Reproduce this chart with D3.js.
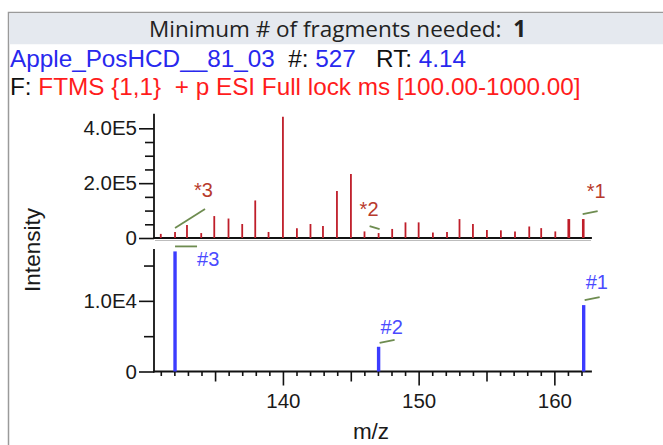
<!DOCTYPE html>
<html><head><meta charset="utf-8">
<script src="https://cdn.jsdelivr.net/npm/d3@7"></script>
<style>
html,body{margin:0;padding:0;background:#fff;}
svg{display:block;}
text{white-space:pre;}
</style></head>
<body>
<svg id="chart" width="663" height="445"></svg>
<script>
// ---------------- data ----------------
const headerLabel = "Minimum # of fragments needed:";
const headerValue = "1";
const fileName = "Apple_PosHCD__81_03";
const scanNumber = "527";
const retentionTime = "4.14";
const filterText = "FTMS {1,1}  + p ESI Full lock ms [100.00-1000.00]";

// measured spectrum (top panel)
const sampleMz = [131.0, 132.05, 132.93, 133.98, 134.94, 135.99, 137.0, 137.96, 138.94, 140.0,
  141.03, 142.03, 142.95, 143.98, 145.01, 146.01, 147.05, 148.05, 149.03, 150.0,
  151.05, 152.09, 153.01, 154.0, 155.03, 156.06, 157.1, 158.15, 159.03, 160.07,
  161.03, 161.1, 162.1, 162.16];
const sampleIntensity = [1.5e4, 2.2e4, 4.7e4, 1.8e4, 8.0e4, 7.1e4, 5.1e4, 1.37e5, 2.2e4, 4.42e5,
  3.6e4, 5.1e4, 4.4e4, 1.71e5, 2.33e5, 2.4e4, 1.8e4, 3.3e4, 5.7e4, 5.7e4,
  2.0e4, 2.2e4, 6.9e4, 5.1e4, 2.9e4, 2.8e4, 2.4e4, 4.2e4, 3.6e4, 2.4e4,
  6.9e4, 6.9e4, 6.9e4, 6.9e4];
const sampleMatchLabels = ["*3", "*2", "*1"];
const sampleMatchMz = [132.05, 147.05, 162.16];

// library fragments (bottom panel)
const fragmentLabels = ["#3", "#2", "#1"];
const fragmentMz = [132.05, 147.05, 162.16];
const fragmentIntensity = [1.7e4, 3.5e3, 9.4e3];

// axes
const mzDomain = [130.5, 162.7];
const mzMajorTicks = [140, 150, 160];
const mzTickLabels = ["140", "150", "160"];
const topMax = 4.5e5;
const topMajorTicks = [0, 2e5, 4e5];
const topTickLabels = ["0", "2.0E5", "4.0E5"];
const topMinorTicks = [5e4, 1e5, 1.5e5, 2.5e5, 3e5, 3.5e5];
const bottomMax = 1.72e4;
const bottomMajorTicks = [0, 1e4];
const bottomTickLabels = ["0", "1.0E4"];
const bottomMinorTicks = [5e3, 1.5e4];
const xTitle = "m/z";
const yTitle = "Intensity";

// ---------------- layout ----------------
const svg = d3.select("#chart");
const sans = "'Liberation Sans', Arial, sans-serif";
const C = {
  frame: "#9a9a9a", header: "#e5e9ef", axis: "#111",
  peak: "#bf1e2a", frag: "#3c3cff", leader: "#6e8c50",
  starLabel: "#b83a2c", hashLabel: "#4a4aff",
  infoBlue: "#2828ee", infoRed: "#ff1c1c"
};

// frame + header band
svg.append("rect").attr("x", 8.5).attr("y", 12.5).attr("width", 700).attr("height", 500)
  .attr("fill", "#fff").attr("stroke", C.frame).attr("stroke-width", 1.5);
svg.append("rect").attr("x", 9.25).attr("y", 13.25).attr("width", 700).attr("height", 31)
  .attr("fill", C.header);

const head = svg.append("text").attr("x", 149).attr("y", 37)
  .attr("font-family", "'Open Sans', 'Noto Sans', sans-serif").attr("font-size", 22.5).attr("fill", "#222");
head.append("tspan").text(headerLabel + "  ");
head.append("tspan").attr("font-weight", "bold").text(headerValue);

const l2 = svg.append("text").attr("x", 10).attr("y", 67)
  .attr("font-family", sans).attr("font-size", 24.3);
l2.append("tspan").attr("fill", C.infoBlue).text(fileName);
l2.append("tspan").attr("fill", "#111").text("  #: ");
l2.append("tspan").attr("fill", C.infoBlue).text(scanNumber);
l2.append("tspan").attr("fill", "#111").text("   RT: ");
l2.append("tspan").attr("fill", C.infoBlue).text(retentionTime);

const l3 = svg.append("text").attr("x", 10).attr("y", 95)
  .attr("font-family", sans).attr("font-size", 24.3);
l3.append("tspan").attr("fill", "#111").text("F: ");
l3.append("tspan").attr("fill", C.infoRed).text(filterText);

// scales
const x = d3.scaleLinear().domain(mzDomain).range([154, 591]);
const yTop = d3.scaleLinear().domain([0, topMax]).range([238, 114.6]);
const yBot = d3.scaleLinear().domain([0, bottomMax]).range([371.5, 250]);

function styleAxis(g) {
  g.select(".domain").remove();
  g.selectAll("line").attr("stroke", C.axis).attr("stroke-width", 1.6);
  g.selectAll("text").attr("fill", "#1a1a1a").attr("font-family", sans).attr("font-size", 20.5);
}

// top y axis
svg.append("g").attr("transform", "translate(154,0)")
  .call(d3.axisLeft(yTop).tickValues(topMajorTicks).tickSize(15).tickPadding(2)
    .tickFormat((d, i) => topTickLabels[i])).call(styleAxis);
svg.append("g").attr("transform", "translate(154,0)")
  .call(d3.axisLeft(yTop).tickValues(topMinorTicks).tickSize(9).tickFormat("")).call(styleAxis);
// bottom y axis
svg.append("g").attr("transform", "translate(154,0)")
  .call(d3.axisLeft(yBot).tickValues(bottomMajorTicks).tickSize(15).tickPadding(2)
    .tickFormat((d, i) => bottomTickLabels[i])).call(styleAxis);
svg.append("g").attr("transform", "translate(154,0)")
  .call(d3.axisLeft(yBot).tickValues(bottomMinorTicks).tickSize(10).tickFormat("")).call(styleAxis);

// bottom x axis: minor (1), medium (5), major (10)
const allInts = d3.range(Math.ceil(mzDomain[0]), Math.floor(mzDomain[1]) + 1);
const xb = yBot(0);
svg.append("g").attr("transform", `translate(0,${xb})`)
  .call(d3.axisBottom(x).tickValues(allInts.filter(v => v % 5 !== 0)).tickSize(4.5).tickFormat(""))
  .call(styleAxis);
svg.append("g").attr("transform", `translate(0,${xb})`)
  .call(d3.axisBottom(x).tickValues(allInts.filter(v => v % 5 === 0 && v % 10 !== 0)).tickSize(10).tickFormat(""))
  .call(styleAxis);
svg.append("g").attr("transform", `translate(0,${xb})`)
  .call(d3.axisBottom(x).tickValues(mzMajorTicks).tickSize(14).tickPadding(8)
    .tickFormat((d, i) => mzTickLabels[i])).call(styleAxis);

// axis lines
const axisLines = [
  [x.range()[0], yTop.range()[1], x.range()[0], yTop(0)],
  [x.range()[0], yTop(0), x.range()[1], yTop(0)],
  [x.range()[0], yBot.range()[1], x.range()[0], yBot(0)],
  [x.range()[0], yBot(0), x.range()[1], yBot(0)]
];
svg.append("g").selectAll("line").data(axisLines).join("line")
  .attr("x1", d => d[0]).attr("y1", d => d[1]).attr("x2", d => d[2]).attr("y2", d => d[3])
  .attr("stroke", C.axis).attr("stroke-width", 1.8).attr("stroke-linecap", "square");
// faint separator at top of bottom panel
svg.append("line").attr("x1", x.range()[0] + 1).attr("x2", x.range()[1])
  .attr("y1", 240.5).attr("y2", 240.5).attr("stroke", "#bdbdbd").attr("stroke-width", 1);

// titles
svg.append("text").attr("x", 371).attr("y", 439).attr("text-anchor", "middle")
  .attr("font-family", sans).attr("font-size", 22.5).attr("fill", "#1a1a1a").text(xTitle);
svg.append("text").attr("transform", "translate(39.5,250) rotate(-90)").attr("text-anchor", "middle")
  .attr("font-family", sans).attr("font-size", 22.5).attr("fill", "#1a1a1a").text(yTitle);

// top peaks
svg.append("g").selectAll("line").data(sampleMz).join("line")
  .attr("x1", d => x(d)).attr("x2", d => x(d))
  .attr("y1", yTop(0)).attr("y2", (d, i) => yTop(sampleIntensity[i]))
  .attr("stroke", C.peak).attr("stroke-width", 1.8);

// bottom fragment bars
svg.append("g").selectAll("line").data(fragmentMz).join("line")
  .attr("x1", d => x(d)).attr("x2", d => x(d))
  .attr("y1", yBot(0)).attr("y2", (d, i) => yBot(fragmentIntensity[i]))
  .attr("stroke", C.frag).attr("stroke-width", 3.4);

// annotation leaders & labels (offsets relative to peak tops)
function topOf(arrMz, arrI, mz) {
  let best = 0;
  arrMz.forEach((m, i) => { if (Math.abs(m - mz) < 0.08 && arrI[i] > best) best = arrI[i]; });
  return best;
}
const starLayout = {
  "*3": { leader: [0, -4, 30, -23], label: [19, -35] },
  "*2": { leader: [-9, -7, 1, -4], label: [-19, -17] },
  "*1": { leader: [-1, -5, 14, -8], label: [3, -21] }
};
sampleMatchLabels.forEach((lab, i) => {
  const mz = sampleMatchMz[i];
  const px = x(mz), py = yTop(topOf(sampleMz, sampleIntensity, mz));
  const L = starLayout[lab];
  svg.append("line").attr("x1", px + L.leader[0]).attr("y1", py + L.leader[1])
    .attr("x2", px + L.leader[2]).attr("y2", py + L.leader[3])
    .attr("stroke", C.leader).attr("stroke-width", 1.8);
  svg.append("text").attr("x", px + L.label[0]).attr("y", py + L.label[1])
    .attr("font-family", sans).attr("font-size", 20).attr("fill", C.starLabel).text(lab);
});
const hashLayout = {
  "#3": { leader: [0, -5, 22, -5], label: [22, 15] },
  "#2": { leader: [1, -4, 16, -7], label: [2, -13] },
  "#1": { leader: [1, -5, 16, -8], label: [2, -16] }
};
fragmentLabels.forEach((lab, i) => {
  const px = x(fragmentMz[i]), py = yBot(fragmentIntensity[i]);
  const L = hashLayout[lab];
  svg.append("line").attr("x1", px + L.leader[0]).attr("y1", py + L.leader[1])
    .attr("x2", px + L.leader[2]).attr("y2", py + L.leader[3])
    .attr("stroke", C.leader).attr("stroke-width", 1.8);
  svg.append("text").attr("x", px + L.label[0]).attr("y", py + L.label[1])
    .attr("font-family", sans).attr("font-size", 20).attr("fill", C.hashLabel).text(lab);
});
</script>
</body></html>
